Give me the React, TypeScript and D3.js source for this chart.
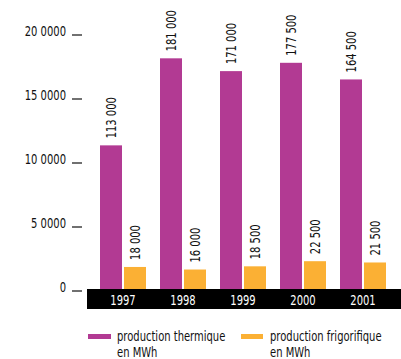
import React from "react";
import * as d3 from "d3";

const years = ["1997", "1998", "1999", "2000", "2001"];
const thermique = [113000, 181000, 171000, 177500, 164500];
const frigorifique = [18000, 16000, 18500, 22500, 21500];
const thermiqueLabels = ["113 000", "181 000", "171 000", "177 500", "164 500"];
const frigoLabels = ["18 000", "16 000", "18 500", "22 500", "21 500"];
const tickValues = [0, 50000, 100000, 150000, 200000];
const tickLabels = ["0", "5 0000", "10 0000", "15 0000", "20 0000"];
const legendLabels = ["production thermique", "production frigorifique"];

const PURPLE = "#b23a93";
const ORANGE = "#fbb034";
const FONT = "'DejaVu Sans', sans-serif";
const SX = 0.74;

type TProps = {
  x: number;
  y: number;
  rot?: number;
  anchor?: "start" | "middle" | "end";
  fill?: string;
  children: React.ReactNode;
};

function T({ x, y, rot = 0, anchor = "start", fill = "#111", children }: TProps) {
  return (
    <text
      transform={`translate(${x},${y}) rotate(${rot}) scale(${SX},1)`}
      textAnchor={anchor}
      fontSize={13.5}
      fill={fill}
    >
      {children}
    </text>
  );
}

export default function App() {
  const W = 401, H = 359;
  const y = d3.scaleLinear().domain([0, 200000]).range([290, 34]);
  const x0 = d3.scaleBand().domain(years).range([93, 393]).paddingInner(0).paddingOuter(0);
  const barW = 22;
  const gap = 2;
  const groupStart = (yr: string) => (x0(yr) as number) + (x0.bandwidth() - (2 * barW + gap)) / 2;

  return (
    <svg width={W} height={H} style={{ position: "absolute", left: 0, top: 0, fontFamily: FONT }}>
      <rect x={0} y={0} width={W} height={H} fill="#fff" />
      {tickValues.map((v, i) => (
        <g key={v}>
          <line x1={72} x2={82} y1={y(v) + 1} y2={y(v) + 1} stroke="#111" strokeWidth={1.2} />
          <T x={66} y={y(v) + 2} anchor="end">{tickLabels[i]}</T>
        </g>
      ))}
      {years.map((yr, i) => {
        const gx = groupStart(yr);
        const tx = gx;
        const fx = gx + barW + gap;
        const ty = y(thermique[i]);
        const fy = y(frigorifique[i]);
        return (
          <g key={yr}>
            <rect x={tx} y={ty} width={barW} height={y(0) - 1 - ty} fill={PURPLE} />
            <rect x={fx} y={fy} width={barW} height={y(0) - fy} fill={ORANGE} />
            <T x={tx + barW / 2 + 5} y={ty - 7} rot={-90}>{thermiqueLabels[i]}</T>
            <T x={fx + barW / 2 + 5} y={fy - 7} rot={-90}>{frigoLabels[i]}</T>
          </g>
        );
      })}
      <rect x={87} y={289} width={W - 87} height={20} fill="#000" />
      {years.map((yr) => (
        <T key={yr} x={groupStart(yr) + barW + gap / 2} y={305} anchor="middle" fill="#fff">
          {yr}
        </T>
      ))}
      <rect x={88} y={334} width={23} height={5} fill={PURPLE} />
      <T x={117} y={341}>{legendLabels[0]}</T>
      <T x={117} y={357}>en MWh</T>
      <rect x={241} y={334} width={22} height={5} fill={ORANGE} />
      <T x={270} y={341}>{legendLabels[1]}</T>
      <T x={270} y={357}>en MWh</T>
    </svg>
  );
}
